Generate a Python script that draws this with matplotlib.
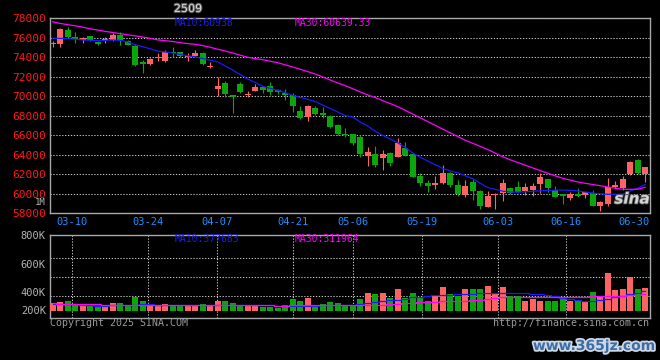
import numpy as np
import matplotlib
matplotlib.use('Agg')
import matplotlib.pyplot as plt
import matplotlib.patheffects as pe

# candle data (one entry per trading day, 03-05 .. 06-30)
opens = [75300, 75300, 76740, 76050, 75750, 76150, 75570, 75720, 75740, 76220,
         75680, 75100, 73520, 73250, 73900, 73620, 74500, 74480, 74000, 74150,
         74450, 73000, 70750, 71330, 70100, 71250, 70150, 70550, 70880, 70990,
         70650, 70300, 70070, 68430, 67880, 68770, 68260, 67980, 67060, 66150,
         66100, 65830, 63880, 64050, 63670, 64120, 63780, 64630, 64020, 61800,
         61040, 60870, 61110, 62140, 60870, 59850, 61150, 60260, 58650, 59810,
         60020, 60530, 60700, 60290, 60360, 60940, 61450, 60360, 59950, 59570,
         59910, 59850, 60080, 58750, 58920, 60700, 60530, 61960, 63430, 61960]
highs = [75600, 76950, 77040, 76550, 76050, 76200, 75600, 76020, 76500, 76560,
         75720, 75300, 73700, 73900, 74400, 74760, 75000, 74550, 74400, 74700,
         74500, 73500, 72000, 71550, 70100, 71450, 70530, 71220, 70900, 71430,
         70700, 70750, 70300, 68940, 69110, 69010, 68840, 68080, 67100, 66720,
         66150, 66000, 64800, 64870, 64460, 64290, 65660, 65280, 64120, 62070,
         61380, 61800, 62920, 62240, 61380, 61380, 61450, 60360, 60290, 60040,
         61450, 60700, 61320, 61040, 61110, 62140, 61450, 60770, 59950, 60190,
         60530, 60120, 60360, 59260, 61620, 61320, 61800, 63370, 63500, 62750]
lows = [75000, 74990, 75950, 75450, 75450, 75650, 75250, 75400, 75650, 75270,
        75230, 73100, 72400, 73200, 73600, 73530, 73970, 74000, 73600, 74100,
        73200, 72850, 69950, 69900, 68280, 70300, 69870, 70500, 70300, 70150,
        70200, 69620, 68360, 67640, 67470, 68020, 67740, 66720, 66000, 65800,
        65000, 63780, 62820, 62750, 62410, 62820, 63700, 63880, 61660, 60770,
        60190, 60430, 61000, 60700, 59740, 59610, 59330, 58380, 58650, 58410,
        59230, 59950, 60020, 59850, 59740, 60080, 60190, 59600, 58920, 59330,
        59600, 59500, 58750, 58240, 58750, 60530, 60360, 61900, 62000, 61210]
closes = [75350, 76870, 76020, 75850, 76000, 75750, 75300, 75780, 76290, 75780,
          75270, 73200, 73250, 73800, 74000, 74540, 74450, 74100, 74080, 74450,
          73300, 73100, 71000, 70200, 69880, 70420, 70250, 70880, 70650, 70410,
          70420, 70130, 68940, 67740, 68970, 68150, 68080, 66820, 66100, 65970,
          65150, 64050, 64290, 62920, 64020, 63160, 65210, 63950, 61730, 61040,
          60770, 61110, 62140, 60870, 59950, 60770, 60290, 58750, 59740, 59950,
          61110, 60020, 60190, 60700, 60770, 61730, 60530, 59670, 59740, 59910,
          59780, 60120, 58750, 59090, 60700, 60870, 61490, 63200, 62070, 62680]

ma10 = [75928, 75908, 75877, 75826, 75744, 75713, 75672, 75703, 75744, 75703,
        75559, 75251, 75057, 74851, 74595, 74513, 74410, 74257, 74133, 74010,
        73836, 73682, 73487, 73077, 72667, 72206, 71744, 71385, 70995, 70790,
        70585, 70339, 70072, 69857, 69662, 69426, 69077, 68718, 68359, 67990,
        67836, 67334, 66912, 66389, 65968, 65589, 65210, 64718, 64154, 63723,
        63333, 62954, 62564, 62318, 62133, 61815, 61518, 61057, 60616, 60431,
        60237, 60155, 60135, 60176, 60226, 60277, 60308, 60339, 60359, 60328,
        60267, 60154, 60052, 59970, 59918, 59918, 59928, 60250, 60550, 60938]
ma30 = [77610, 77446, 77313, 77200, 77067, 76892, 76759, 76626, 76513, 76400,
        76277, 76164, 76051, 75908, 75754, 75672, 75590, 75477, 75374, 75303,
        75169, 74995, 74800, 74616, 74410, 74185, 73969, 73836, 73723, 73569,
        73415, 73200, 72974, 72738, 72502, 72257, 71949, 71641, 71344, 71067,
        70749, 70410, 70113, 69836, 69528, 69221, 68913, 68533, 68144, 67764,
        67374, 66995, 66605, 66226, 65846, 65457, 65149, 64841, 64503, 64144,
        63775, 63457, 63180, 62903, 62626, 62349, 62082, 61816, 61559, 61374,
        61190, 61046, 60923, 60800, 60667, 60544, 60431, 60431, 60431, 60639.33]

volume = [156600, 174000, 191400, 121800, 110200, 98600, 92800, 75400, 156600, 156600,
          98600, 266800, 179800, 110200, 110200, 139200, 116000, 92800, 92800, 92800,
          139200, 92800, 179800, 179800, 156600, 110200, 110200, 110200, 75400, 87000,
          63800, 121800, 226200, 179800, 243600, 98600, 139200, 174000, 156600, 121800,
          110200, 226200, 330600, 313200, 330600, 237800, 400200, 237800, 330600, 261000,
          197200, 295800, 435000, 313200, 284200, 400200, 400200, 400200, 458200, 330600,
          435000, 284200, 272600, 197200, 226200, 197200, 179800, 179800, 255200, 197200,
          179800, 197200, 353800, 261000, 701800, 382800, 400200, 626400, 400200, 417600]
vma10 = [129000, 129000, 129000, 129000, 122000, 122000, 99000, 99000, 116000, 116000,
         122000, 122000, 125000, 125000, 116000, 116000, 116000, 116000, 116000, 116000,
         116000, 116000, 116000, 116000, 110000, 110000, 110000, 110000, 110000, 110000,
         93000, 93000, 104000, 104000, 104000, 104000, 116000, 116000, 116000, 116000,
         116000, 133000, 145000, 168000, 186000, 203000, 215000, 232000, 255000, 267000,
         278000, 290000, 296000, 302000, 307000, 313000, 325000, 331000, 342000, 342000,
         342000, 342000, 336000, 331000, 325000, 313000, 302000, 284000, 249000, 226000,
         215000, 197000, 191000, 203000, 226000, 255000, 284000, 307000, 342000, 377683]
vma30 = [157000, 139000, 139000, 139000, 125000, 125000, 125000, 110000, 116000, 116000,
         116000, 116000, 116000, 116000, 116000, 116000, 116000, 116000, 116000, 116000,
         116000, 110000, 110000, 110000, 110000, 110000, 110000, 110000, 110000, 110000,
         104000, 104000, 122000, 122000, 122000, 122000, 122000, 122000, 122000, 122000,
         110000, 110000, 116000, 116000, 122000, 128000, 139000, 145000, 157000, 162000,
         168000, 174000, 180000, 186000, 191000, 197000, 209000, 215000, 226000, 244000,
         255000, 255000, 255000, 255000, 261000, 261000, 261000, 267000, 267000, 267000,
         267000, 267000, 273000, 273000, 278000, 278000, 284000, 296000, 302000, 311964]

date_labels = ['03-10', '03-24', '04-07', '04-21', '05-06', '05-19', '06-03', '06-16', '06-30']
price_ticks = list(range(58000, 78001, 2000))
vol_tick_labels = ['800K', '600K', '400K', '200K']

# layout (candle-index positions of the date grid, volume label positions)
date_grid = [2.57, 12.71, 21.91, 32.04, 40.04, 49.23, 59.37, 68.44]
date_label_pos = date_grid + [77.49]
vol_label_pos = [1392000, 870000, 348000, 17400]
vol_grid = [974400, 626400, 278400]

UP, DOWN = '#ff6262', '#0ca60c'
GRID = '#c8c8c8'
BORDER = '#a8a8a8'
MONO = 'DejaVu Sans Mono'

def fmt(v):
    return f'{v:.2f}'.rstrip('0').rstrip('.')

o, h, l, c = map(np.array, (opens, highs, lows, closes))
x = np.arange(len(o))
colors = np.where(c >= o, UP, DOWN)

fig = plt.figure(figsize=(6.6, 3.6), dpi=100, facecolor='black')
ax1 = fig.add_axes([50 / 660, 1 - 213 / 360, 600 / 660, 195 / 360], facecolor='black')
ax2 = fig.add_axes([50 / 660, 1 - 318 / 360, 600 / 660, 83 / 360], facecolor='black')

# price panel
ax1.vlines(x, l, h, colors=colors, linewidth=0.8, zorder=3)
body_lo = np.minimum(o, c)
body_h = np.maximum(np.abs(c - o), 90)
ax1.bar(x, body_h, bottom=body_lo, width=0.8, color=colors, linewidth=0, zorder=4)
ax1.plot(x, ma10, color='#1a1aff', linewidth=0.9, zorder=5)
ax1.plot(x, ma30, color='#ff00ff', linewidth=0.9, zorder=5)
ax1.set_xlim(-0.36, 79.64)
ax1.set_ylim(58000, 78000)
ax1.set_yticks(price_ticks)
ax1.set_yticklabels([str(v) for v in price_ticks], color='#ff1a1a', fontsize=8, family=MONO)
ax1.set_xticks(date_label_pos)
ax1.set_xticklabels(date_labels, color='#1e90ff', fontsize=7.5, family=MONO)
ax1.set_xticks(date_grid, minor=True)
ax1.tick_params(which='both', length=0)
ax1.tick_params(axis='y', pad=3)
ax1.tick_params(axis='x', pad=3)
ax1.grid(which='major', axis='y', color=GRID, linestyle=(0, (1.2, 1.6)), linewidth=0.75)
ax1.grid(which='minor', axis='x', color=GRID, linestyle=(0, (1.2, 1.6)), linewidth=0.75)

# volume panel
ax2.bar(x, volume, width=0.8, color=colors, linewidth=0, zorder=3)
ax2.plot(x, vma10, color='#1a1aff', linewidth=0.9, zorder=5, drawstyle='steps-mid')
ax2.plot(x, vma30, color='#ff00ff', linewidth=0.9, zorder=5, drawstyle='steps-mid')
ax2.set_xlim(-0.36, 79.64)
ax2.set_ylim(-121800, 1322000)
ax2.set_yticks(vol_label_pos)
ax2.set_yticklabels(vol_tick_labels, color='#b4b4b4', fontsize=7.5, family=MONO)
ax2.set_yticks(vol_grid, minor=True)
ax2.set_xticks([])
ax2.set_xticks(date_grid, minor=True)
ax2.tick_params(which='both', length=0, labelbottom=False)
ax2.tick_params(axis='y', pad=3)
ax2.grid(which='minor', color=GRID, linestyle=(0, (1.2, 1.6)), linewidth=0.75)

for ax in (ax1, ax2):
    for s in ax.spines.values():
        s.set_color(BORDER)
        s.set_linewidth(1)
    ax.set_axisbelow(True)

# labels and captions
fig.text(188 / 660, 1 - 9 / 360, '2509', color='#d8d8d8', fontsize=8, ha='center', va='center',
         path_effects=[pe.withStroke(linewidth=1.5, foreground='#555555')])
fig.text(175 / 660, 1 - 23 / 360, f'MA10:{fmt(ma10[-1])}', color='#1a1aff', fontsize=7, family=MONO, va='center')
fig.text(295 / 660, 1 - 23 / 360, f'MA30:{fmt(ma30[-1])}', color='#ff00ff', fontsize=7, family=MONO, va='center')
fig.text(175 / 660, 1 - 239 / 360, f'MA10:{fmt(vma10[-1])}', color='#1a1aff', fontsize=7, family=MONO, va='center')
fig.text(295 / 660, 1 - 239 / 360, f'MA30:{fmt(vma30[-1])}', color='#ff00ff', fontsize=7, family=MONO, va='center')
fig.text(46 / 660, 1 - 202.5 / 360, '1M', color='#b4b4b4', fontsize=6.5, family=MONO, ha='right', va='center')
fig.text(50 / 660, 1 - 323 / 360, 'Copyright 2025 SINA.COM', color='#9a9a9a', fontsize=7.2, family=MONO, va='center')
fig.text(649 / 660, 1 - 323 / 360, 'http://finance.sina.com.cn', color='#9a9a9a', fontsize=7.2, family=MONO,
         ha='right', va='center')
fig.text(632 / 660, 1 - 199 / 360, 'sina', color='#dcdcdc', fontsize=11, fontweight='bold', style='italic',
         ha='center', va='center', alpha=0.9,
         path_effects=[pe.withStroke(linewidth=1.2, foreground='#606060')])
fig.text(594 / 660, 1 - 346 / 360, 'www.365jz.com', color='#3c6ea6', fontsize=10, fontweight='bold',
         ha='center', va='center',
         path_effects=[pe.withStroke(linewidth=2.5, foreground='#cfd8e6')])

fig.savefig('out.png', dpi=100, facecolor='black')
